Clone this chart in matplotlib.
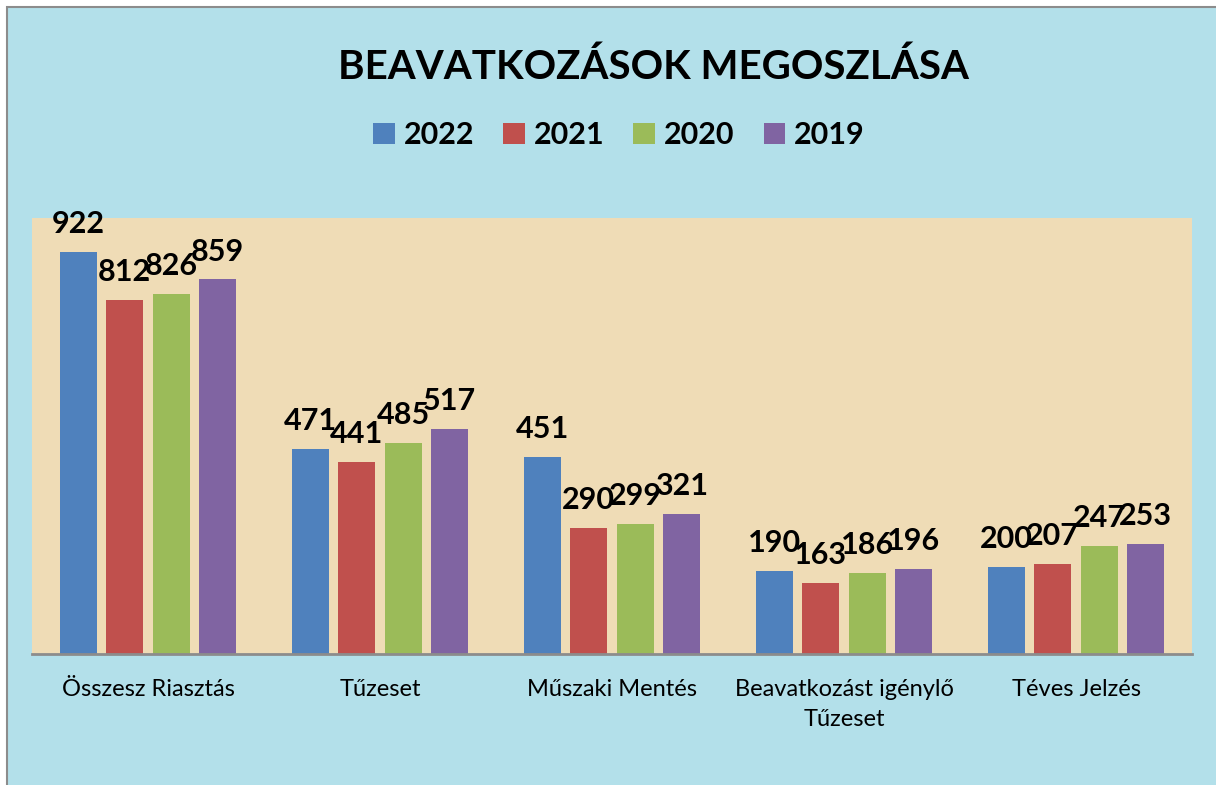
import matplotlib
matplotlib.use("Agg")
import matplotlib.pyplot as plt
from matplotlib.patches import Rectangle, Patch
import numpy as np

plt.rcParams['font.family'] = ['Lato', 'DejaVu Sans']

title = "BEAVATKOZÁSOK MEGOSZLÁSA"
categories = ["Összesz Riasztás", "Tűzeset", "Műszaki Mentés",
              "Beavatkozást igénylő\nTűzeset", "Téves Jelzés"]
series_names = ["2022", "2021", "2020", "2019"]
values_2022 = [922, 471, 451, 190, 200]
values_2021 = [812, 441, 290, 163, 207]
values_2020 = [826, 485, 299, 186, 247]
values_2019 = [859, 517, 321, 196, 253]
series_values = [values_2022, values_2021, values_2020, values_2019]
colors = ["#4F81BD", "#C0504D", "#9BBB59", "#8064A2"]

W, H = 1216, 785
fig = plt.figure(figsize=(W / 100, H / 100), dpi=100)
fig.patch.set_facecolor("white")

# chart area background with border (only top/left edges visible)
bg = Rectangle((7 / W, -0.1), 1.2, 1.1 - 7 / H, transform=fig.transFigure,
               facecolor="#b3e0ea", edgecolor="#8c8c8c", linewidth=1.5, zorder=-10)
fig.patches.append(bg)

ax = fig.add_axes([32 / W, 1 - 654 / H, (1192 - 32) / W, (654 - 218) / H])
ax.set_facecolor("#efdcb6")

x = np.arange(len(categories))
bw = 0.16
pitch = 0.2
for i, (name, vals, c) in enumerate(zip(series_names, series_values, colors)):
    off = (i - 1.5) * pitch
    bars = ax.bar(x + off, vals, width=bw, color=c, label=name, zorder=2)
    for b, v in zip(bars, vals):
        ax.annotate(str(v), (b.get_x() + b.get_width() / 2, v),
                    xytext=(0, 10), textcoords="offset points",
                    ha="center", va="bottom", fontsize=22, fontweight="bold",
                    color="black", zorder=3, annotation_clip=False)

ax.set_xlim(-0.5, len(categories) - 0.5)
ax.set_ylim(0, 1000)
ax.set_yticks([])
ax.set_xticks(x)
ax.set_xticklabels(categories, fontsize=17, linespacing=1.55)
ax.tick_params(axis="x", length=0, pad=18)
for s in ["top", "right", "left"]:
    ax.spines[s].set_visible(False)
ax.spines["bottom"].set_color("#8c8c8c")
ax.spines["bottom"].set_linewidth(2)

fig.text(654 / W, 1 - 67 / H, title, ha="center", va="center",
         fontsize=29, fontweight="bold", color="black")

handles = [Patch(facecolor=c, edgecolor="none") for c in colors]
fig.legend(handles, series_names, loc="center", ncol=4,
           bbox_to_anchor=(619 / W, 1 - 135 / H), frameon=False,
           prop={"size": 22, "weight": "bold"},
           handlelength=0.7, handleheight=0.7, handletextpad=0.3,
           columnspacing=0.95)

fig.savefig("out.png", dpi=100)
